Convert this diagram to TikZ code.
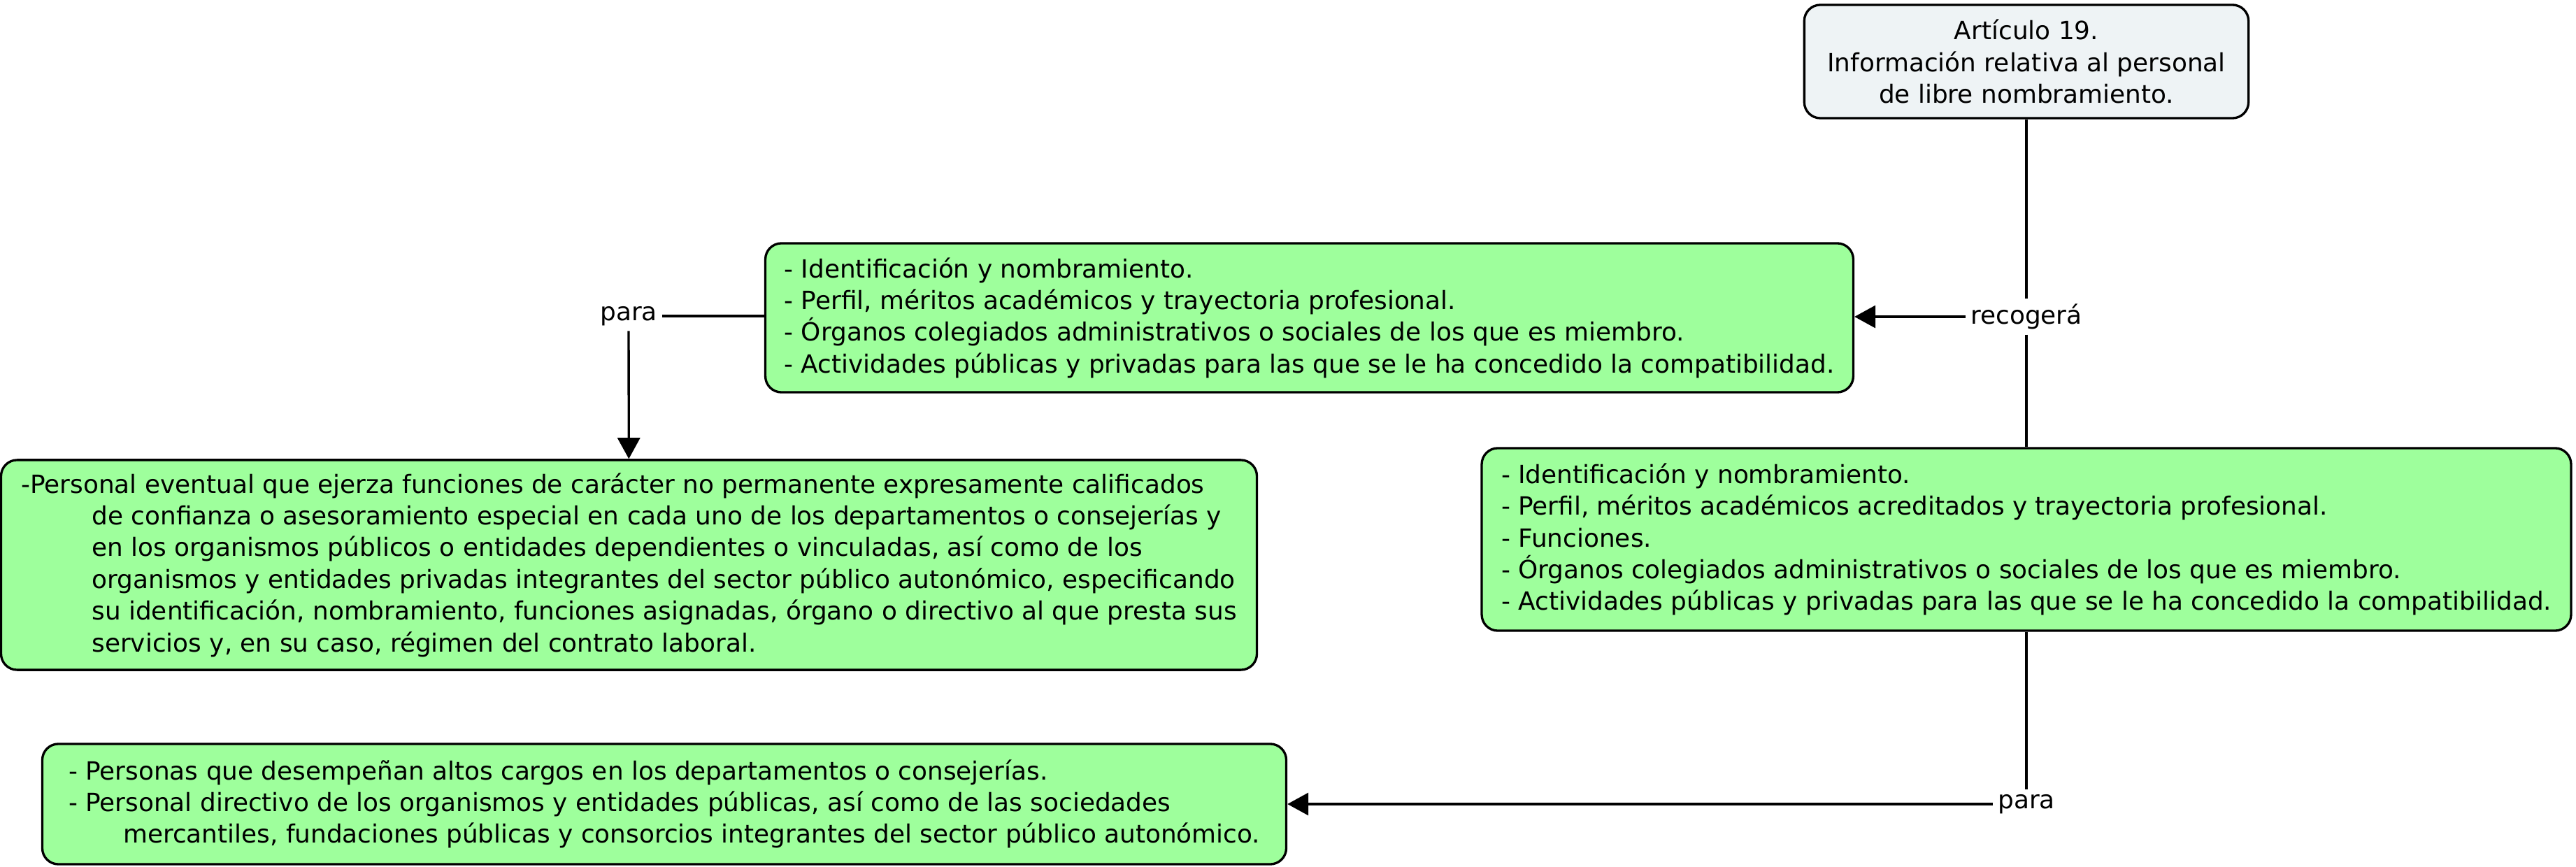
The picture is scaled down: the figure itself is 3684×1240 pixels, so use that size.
\documentclass[tikz,border=0pt]{standalone}
\usepackage{fontspec}
\setmainfont{DejaVu Sans}
\usetikzlibrary{arrows.meta}

\definecolor{boxgreen}{RGB}{158,255,156}
\definecolor{topblue}{RGB}{238,243,245}

\begin{document}
\begin{tikzpicture}[x=0.01cm, y=-0.01cm, line width=0.95pt,
    every node/.style={font=\fontsize{10.2pt}{12.9pt}\selectfont},
    cbox/.style={draw, rounded corners=0.23cm, fill=boxgreen, inner sep=0pt, align=left},
    topbox/.style={draw, rounded corners=0.23cm, fill=topblue, inner sep=0pt, align=center},
    lnk/.style={inner sep=0.06cm},
    arr/.style={-{Triangle[length=0.30cm, width=0.32cm]}}]
            \useasboundingbox (0,0) rectangle (3684,1240);
            \node[topbox, minimum width=6.35cm, minimum height=1.62cm] (art) at (2898,88) {Artículo 19.\\ Información relativa al personal\\ de libre nombramiento.};
            \node[lnk] (rec) at (2898,453) {recogerá};
            \node[cbox, minimum width=15.55cm, minimum height=2.13cm] (ident) at (1872.5,454.5) {- Identificación y nombramiento.\\ - Perfil, méritos académicos y trayectoria profesional.\\ - Órganos colegiados administrativos o sociales de los que es miembro.\\ - Actividades públicas y privadas para las que se le ha concedido la compatibilidad.};
            \node[cbox, minimum width=15.57cm, minimum height=2.61cm] (perfil) at (2898,771.5) {- Identificación y nombramiento.\\ - Perfil, méritos académicos acreditados y trayectoria profesional.\\ - Funciones.\\ - Órganos colegiados administrativos o sociales de los que es miembro.\\ - Actividades públicas y privadas para las que se le ha concedido la compatibilidad.};
            \node[lnk] (para1) at (899,452) {para};
            \node[cbox, minimum width=17.95cm, minimum height=3.0cm] (eventual) at (899.5,808) {-Personal eventual que ejerza funciones de carácter no permanente expresamente calificados\\ \hspace*{1.01cm}de confianza o asesoramiento especial en cada uno de los departamentos o consejerías y\\ \hspace*{1.01cm}en los organismos públicos o entidades dependientes o vinculadas, así como de los\\ \hspace*{1.01cm}organismos y entidades privadas integrantes del sector público autonómico, especificando\\ \hspace*{1.01cm}su identificación, nombramiento, funciones asignadas, órgano o directivo al que presta sus\\ \hspace*{1.01cm}servicios y, en su caso, régimen del contrato laboral.};
            \node[lnk] (para2) at (2898,1150) {para};
            \node[cbox, minimum width=17.78cm, minimum height=1.72cm] (cargos) at (950,1150) {- Personas que desempeñan altos cargos en los departamentos o consejerías.\\ - Personal directivo de los organismos y entidades públicas, así como de las sociedades\\ \hspace*{0.78cm}mercantiles, fundaciones públicas y consorcios integrantes del sector público autonómico.};
            % links
            \draw (art) -- (rec) (rec) -- (perfil);
            \draw[arr] (rec) -- (rec -| ident.east);
            \draw (para1) -- (para1 -| ident.west);
            \draw[arr] (para1) -- (eventual);
            \draw (perfil) -- (para2);
            \draw[arr] (para2) -- (cargos);
        \end{tikzpicture}
\end{document}
